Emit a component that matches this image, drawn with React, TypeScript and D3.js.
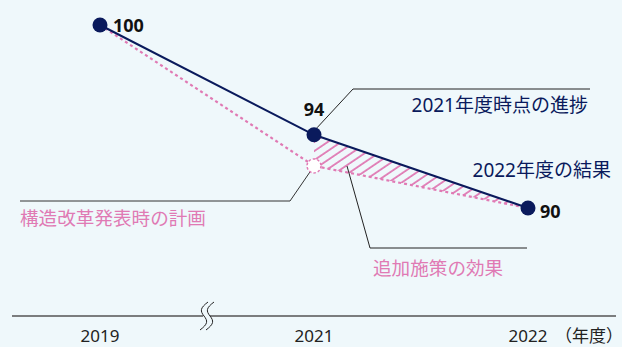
import React from "react";
import * as d3 from "d3";

const years = ["2019", "2021", "2022"];
const actual = [100, 94, 90];
const plan = [100, 92.3, 90];
const valueLabels = ["100", "94", "90"];
const unitLabel = "（年度）";
const labelProgress = "2021年度時点の進捗";
const labelResult = "2022年度の結果";
const labelPlan = "構造改革発表時の計画";
const labelEffect = "追加施策の効果";

const W = 622;
const H = 347;
const BG = "#eff8fb";
const NAVY = "#0a1a5c";
const PINK = "#e07ab4";
const FONT = "'Noto Sans', 'Noto Sans CJK JP', sans-serif";

export default function App() {
  const x = d3.scalePoint<string>().domain(years).range([100, 528]);
  const y = d3.scaleLinear().domain([90, 100]).range([208, 25]);

  const actualPts = years.map((yr, i) => [x(yr)!, y(actual[i])] as [number, number]);
  const planPts = years.map((yr, i) => [x(yr)!, y(plan[i])] as [number, number]);
  const line = d3.line();
  const idx = [1, 2];
  const area = d3
    .area<number>()
    .x((i) => x(years[i])!)
    .y0((i) => y(plan[i]))
    .y1((i) => y(actual[i]));

  const axisY = 316;
  const bx = 206;
  const squiggle = (ox: number) =>
    `M${ox + 5},302 C${ox - 3},308 ${ox - 3},311 ${ox + 1},316 C${ox + 5},321 ${ox + 5},324 ${ox - 3},330`;

  const p1 = actualPts[1];
  const pp1 = planPts[1];

  return (
    <svg
      width={W}
      height={H}
      style={{ position: "absolute", left: 0, top: 0, background: BG }}
      fontFamily={FONT}
    >
      <defs>
        <pattern id="hatch" patternUnits="userSpaceOnUse" width={7.5} height={7.5} patternTransform="rotate(56)">
          <line x1={1} y1={0} x2={1} y2={7.5} stroke={PINK} strokeWidth={1.8} />
        </pattern>
      </defs>
      <rect width={W} height={H} fill={BG} />

      {/* hatched effect area */}
      <path d={area(idx) || ""} fill="url(#hatch)" />

      {/* leader lines */}
      <polyline points={`${p1[0] + 3},${p1[1] - 7} 353,89 590,89`} fill="none" stroke="#222" strokeWidth={1} />
      <polyline points={`${pp1[0] - 4},${pp1[1] + 6} 290,201 20,201`} fill="none" stroke="#333" strokeWidth={1} />
      <polyline points={`347,166 370,248 527,248`} fill="none" stroke="#222" strokeWidth={1} />

      {/* planned line */}
      <path d={line(planPts) || ""} fill="none" stroke={PINK} strokeWidth={2.2} strokeDasharray="3,3" />
      {/* actual line */}
      <path d={line(actualPts) || ""} fill="none" stroke={NAVY} strokeWidth={2} />

      {/* planned 2021 point */}
      <circle cx={pp1[0]} cy={pp1[1]} r={7} fill="#fff" stroke={PINK} strokeWidth={1.5} strokeDasharray="2.5,2" />

      {/* actual points */}
      {actualPts.map((p, i) => (
        <circle key={i} cx={p[0]} cy={p[1]} r={7.5} fill={NAVY} />
      ))}

      {/* value labels */}
      <text x={actualPts[0][0] + 13} y={actualPts[0][1] + 7} fontSize={18} fontWeight="bold" fill="#111">
        {valueLabels[0]}
      </text>
      <text x={actualPts[1][0]} y={actualPts[1][1] - 19} fontSize={18} fontWeight="bold" fill="#111" textAnchor="middle">
        {valueLabels[1]}
      </text>
      <text x={actualPts[2][0] + 12} y={actualPts[2][1] + 10} fontSize={18} fontWeight="bold" fill="#111">
        {valueLabels[2]}
      </text>

      {/* annotation texts */}
      <text x={588} y={112} fontSize={19} fill={NAVY} textAnchor="end">
        {labelProgress}
      </text>
      <text x={611} y={177} fontSize={19} fill={NAVY} textAnchor="end">
        {labelResult}
      </text>
      <text x={20} y={225} fontSize={18.6} fill={PINK}>
        {labelPlan}
      </text>
      <text x={373} y={275} fontSize={18.6} fill={PINK}>
        {labelEffect}
      </text>

      {/* axis */}
      <line x1={12} x2={616} y1={axisY} y2={axisY} stroke="#555" strokeWidth={1.5} />
      <rect x={bx - 3} y={axisY - 2} width={7} height={4} fill={BG} />
      <path d={squiggle(bx - 3)} fill="none" stroke="#222" strokeWidth={1} />
      <path d={squiggle(bx + 3)} fill="none" stroke="#222" strokeWidth={1} />

      {years.map((yr) => (
        <text key={yr} x={x(yr)!} y={342} fontSize={17} fill="#222" textAnchor="middle">
          {yr}
        </text>
      ))}
      <text x={589} y={342} fontSize={17} fill="#222" textAnchor="middle">
        {unitLabel}
      </text>
    </svg>
  );
}
